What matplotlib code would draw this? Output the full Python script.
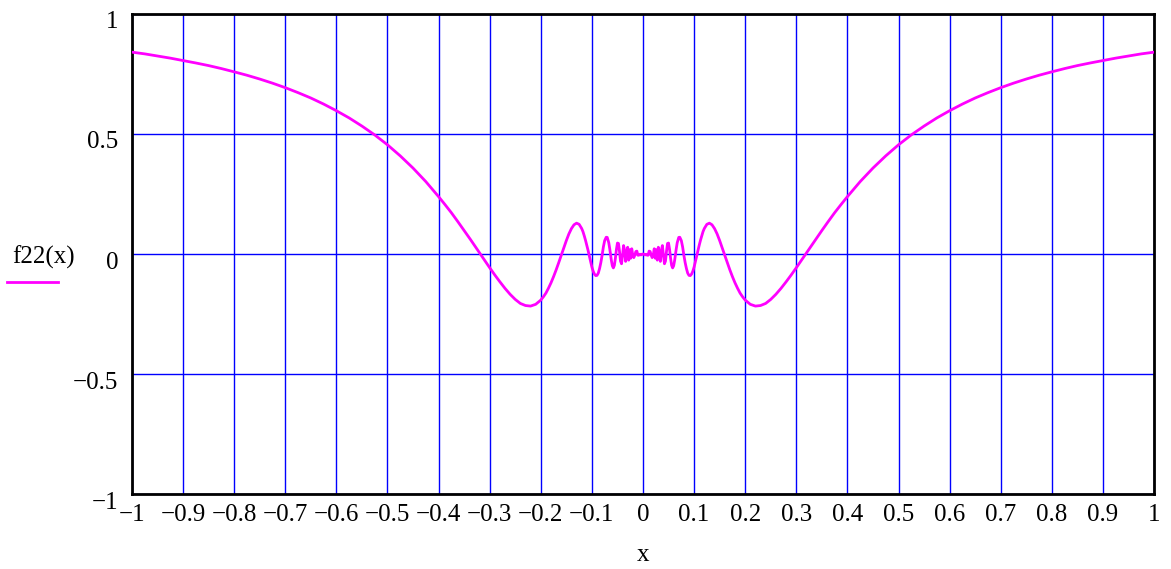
import numpy as np
import matplotlib
matplotlib.use('Agg')
import matplotlib.pyplot as plt
from matplotlib.transforms import ScaledTranslation

# f22(x), right half (x >= 0); the curve is symmetric about x = 0
x_right = [0.0, 0.002, 0.004, 0.006, 0.008, 0.010, 0.012, 0.014, 0.016, 0.018,
           0.020, 0.022, 0.024, 0.026, 0.028, 0.030, 0.032, 0.034, 0.036, 0.038,
           0.040, 0.042, 0.044, 0.046, 0.048, 0.050, 0.052, 0.054, 0.056, 0.058,
           0.060, 0.062, 0.065, 0.067, 0.070, 0.072, 0.075, 0.0775, 0.080, 0.0825,
           0.085, 0.0875, 0.090, 0.0925, 0.095, 0.0975, 0.100, 0.105, 0.1075, 0.110,
           0.1125, 0.115, 0.1175, 0.120, 0.125, 0.130, 0.135, 0.140, 0.145, 0.150,
           0.155, 0.160, 0.165, 0.170, 0.175, 0.180, 0.185, 0.190, 0.195, 0.200,
           0.210, 0.220, 0.230, 0.240, 0.250, 0.260, 0.270, 0.280, 0.290, 0.300,
           0.310, 0.325, 0.3375, 0.350, 0.3625, 0.375, 0.3875, 0.400, 0.425, 0.450,
           0.475, 0.500, 0.525, 0.550, 0.575, 0.600, 0.625, 0.650, 0.675, 0.700,
           0.725, 0.750, 0.775, 0.800, 0.825, 0.850, 0.875, 0.900, 0.925, 0.950,
           0.975, 1.000]
y_right = [0.0, -0.0009, -0.0039, -0.001, -0.0049, -0.0051, 0.012, 0.0103, -0.0052, -0.0151,
           -0.0052, 0.0219, -0.0176, 0.018, -0.0256, 0.0282, -0.0053, -0.0308, 0.0172, 0.0352,
           -0.0053, -0.0407, -0.0295, 0.0115, 0.044, 0.0456, 0.0193, -0.0174, -0.047, -0.058,
           -0.0491, -0.0253, 0.0206, 0.0472, 0.0692, 0.0698, 0.0559, 0.0298, -0.0053, -0.0359,
           -0.0606, -0.0798, -0.089, -0.090, -0.0839, -0.072, -0.0544, -0.0084, 0.0152, 0.0363,
           0.0573, 0.0762, 0.0934, 0.1063, 0.1237, 0.1285, 0.1218, 0.106, 0.0838, 0.0561,
           0.026, -0.0053, -0.0365, -0.0663, -0.0943, -0.120, -0.1425, -0.163, -0.1786, -0.192,
           -0.2097, -0.217, -0.2147, -0.206, -0.1892, -0.168, -0.1433, -0.116, -0.0873, -0.0572,
           -0.0261, 0.021, 0.060, 0.0978, 0.1354, 0.172, 0.206, 0.239, 0.3017, 0.358,
           0.4088, 0.455, 0.4962, 0.533, 0.5669, 0.597, 0.6247, 0.650, 0.6723, 0.693,
           0.7118, 0.729, 0.7448, 0.759, 0.7726, 0.785, 0.7959, 0.806, 0.8161, 0.825,
           0.8338, 0.841]

x_ticks = [-1, -0.9, -0.8, -0.7, -0.6, -0.5, -0.4, -0.3, -0.2, -0.1, 0,
           0.1, 0.2, 0.3, 0.4, 0.5, 0.6, 0.7, 0.8, 0.9, 1]
y_ticks = [-1, -0.5, 0, 0.5, 1]


def fmt(v):
    s = f'{v:g}'
    return s.replace('-', '\u2212')


x_right = np.array(x_right)
y_right = np.array(y_right)
xs = np.concatenate([-x_right[::-1], x_right[1:]])
ys = np.concatenate([y_right[::-1], y_right[1:]])

plt.rcParams['font.family'] = ['Liberation Serif', 'DejaVu Serif']

fig = plt.figure(figsize=(11.71, 5.69), dpi=100)
ax = fig.add_axes([0.1127, 0.1318, 0.8728, 0.8436])

for xt in x_ticks:
    ax.axvline(xt, color='#0000ff', linewidth=1, zorder=1)
for yt in y_ticks:
    ax.axhline(yt, color='#0000ff', linewidth=1, zorder=1)

ax.plot(xs, ys, color='#ff00ff', linewidth=2, zorder=3)

ax.set_xlim(-1, 1)
ax.set_ylim(-1, 1)
ax.set_xticks(x_ticks)
ax.set_xticklabels([fmt(v) for v in x_ticks], fontsize=18)
ax.set_yticks(y_ticks)
ax.set_yticklabels([fmt(v) for v in y_ticks], fontsize=18)
ax.tick_params(length=0, pad=7)
ax.tick_params(axis='y', pad=10)
# Mathcad puts the y labels a little below their grid lines
shift = ScaledTranslation(0, -6 / 100, fig.dpi_scale_trans)
for lab in ax.get_yticklabels():
    lab.set_transform(lab.get_transform() + shift)
for sp in ax.spines.values():
    sp.set_linewidth(2)
    sp.set_color('black')

ax.set_xlabel('x', fontsize=18, labelpad=13)

# legend-like label on the left
fig.text(12 / 1171, 1 - 257 / 569, 'f22(x)', fontsize=18, va='center', ha='left')
fig.add_artist(plt.Line2D([7 / 1171, 58 / 1171], [1 - 282 / 569, 1 - 282 / 569],
                          color='#ff00ff', linewidth=2))

plt.savefig('out.png', dpi=100)
